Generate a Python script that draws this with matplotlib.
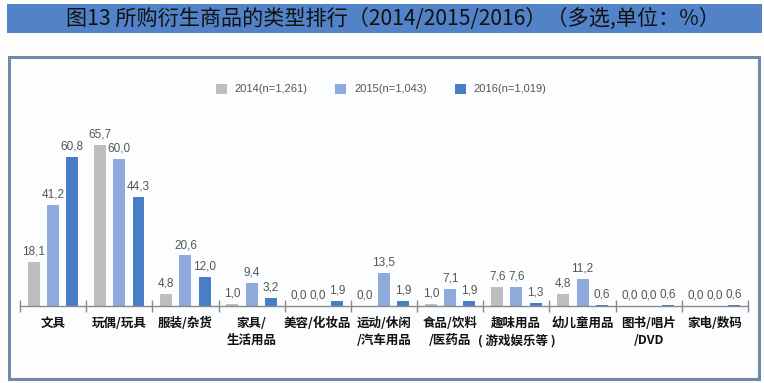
import matplotlib
matplotlib.use("Agg")
from matplotlib import pyplot as plt
from matplotlib.patches import Rectangle
import numpy as np

plt.rcParams['font.family'] = ['Noto Sans CJK SC', 'DejaVu Sans']

categories = ["文具", "玩偶/玩具", "服装/杂货", "家具/\n生活用品", "美容/化妆品",
              "运动/休闲\n/汽车用品", "食品/饮料\n/医药品", "趣味用品\n( 游戏娱乐等 )",
              "幼儿童用品", "图书/唱片\n/DVD", "家电/数码"]
series_names = ["2014(n=1,261)", "2015(n=1,043)", "2016(n=1,019)"]
v2014 = [18.1, 65.7, 4.8, 1.0, 0.0, 0.0, 1.0, 7.6, 4.8, 0.0, 0.0]
v2015 = [41.2, 60.0, 20.6, 9.4, 0.0, 13.5, 7.1, 7.6, 11.2, 0.0, 0.0]
v2016 = [60.8, 44.3, 12.0, 3.2, 1.9, 1.9, 1.9, 1.3, 0.6, 0.6, 0.6]
colors = ["#BEBEBE", "#8FAADC", "#4A7EC4"]
title = "图13 所购衍生商品的类型排行（2014/2015/2016）（多选,单位：%）"

num_font = ['Liberation Sans', 'DejaVu Sans']

fig = plt.figure(figsize=(7.64, 3.83), dpi=100)
fig.patch.set_facecolor("#FDFDFB")

# title bar and frame box
fig.patches.append(Rectangle((7/764, 1-33/383), 755/764, 29/383, transform=fig.transFigure,
                             facecolor="#5283C8", edgecolor="none", zorder=-2))
fig.patches.append(Rectangle((9/764, 1-379/383), 750/764, 322/383, transform=fig.transFigure,
                             facecolor="#FCFDFE", edgecolor="#6E8AAA", lw=2.2, zorder=-2))
fig.text(393/764, 1-18.5/383, title, ha="center", va="center", fontsize=15.2, color="#111111")

ax = fig.add_axes([20/764, 1-306/383, 728/764, 206/383])
ax.set_facecolor("none")
ax.set_zorder(2)

x = np.arange(len(categories))
w = 0.18
step = 0.29
for i, (vals, name) in enumerate(zip([v2014, v2015, v2016], series_names)):
    bars = ax.bar(x + (i-1)*step, vals, w, color=colors[i], label=name)
    for b, v in zip(bars, vals):
        ax.text(b.get_x() + b.get_width()/2, v + 1.8, f"{v:.1f}".replace(".", ","),
                ha="center", va="bottom", fontsize=8.5, color="#555555", family=num_font)

ax.set_xlim(-0.5, len(categories) - 0.5)
ax.set_ylim(0, 84)
ax.set_yticks([])
for s in ["top", "right", "left"]:
    ax.spines[s].set_visible(False)
ax.spines["bottom"].set_color("#8A8A8A")
ax.spines["bottom"].set_linewidth(1)

ax.set_xticks(x)
ax.set_xticklabels(categories, fontsize=9, fontweight="bold", color="#111111", linespacing=1.35)
ax.tick_params(axis="x", which="major", length=0, pad=8)
ax.set_xticks(np.arange(len(categories) + 1) - 0.5, minor=True)
ax.tick_params(axis="x", which="minor", length=8, direction="inout", color="#8A8A8A", width=1)

leg = ax.legend(loc="center", bbox_to_anchor=(381/764, 1-89/383), bbox_transform=fig.transFigure,
                ncol=3, frameon=False, handlelength=1.0, handleheight=1.0, columnspacing=2.5,
                handletextpad=0.7, prop={'family': num_font, 'size': 8})
for t in leg.get_texts():
    t.set_color("#555555")

fig.savefig("out.png", dpi=100, facecolor=fig.get_facecolor())
